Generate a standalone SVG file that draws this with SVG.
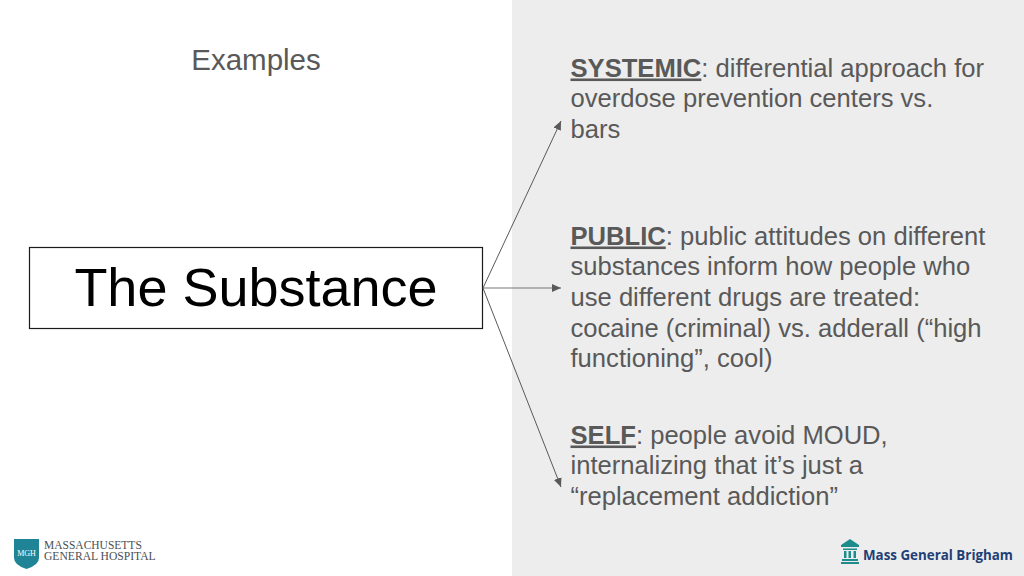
<svg xmlns="http://www.w3.org/2000/svg" width="1024" height="576" viewBox="0 0 1024 576">
<style>
.b{font-family:"Liberation Sans",Arial,sans-serif;font-size:25.6px;fill:#595959}
.h{font-weight:bold;text-decoration:underline}
.c{stroke:#595959;stroke-width:1;fill:none;marker-end:url(#a)}
</style>
<defs><marker id="a" markerUnits="userSpaceOnUse" markerWidth="10" markerHeight="10" refX="9" refY="4" orient="auto"><path d="M0 0L9 4L0 8Z" fill="#595959"/></marker></defs>
<rect width="1024" height="576" fill="#fff"/>
<rect x="512" width="512" height="576" fill="#ededed"/>
<text class="b" x="256" y="70" text-anchor="middle" style="font-size:29.500px">Examples</text>
<g id="node-substance"><rect x="29.500" y="247.500" width="453" height="81" fill="#fff" stroke="#1a1a1a" stroke-width="1.200"/>
<text x="256" y="306" text-anchor="middle" font-family="Liberation Sans,Arial,sans-serif" font-size="54" fill="#000">The Substance</text></g>
<g id="connectors">
<path class="c" d="M483 288L561 121"/>
<path class="c" d="M483 288H561" stroke-opacity=".8"/>
<path class="c" d="M483 288L561 487"/>
</g>
<g id="node-systemic"><text class="b" x="570.500" y="76.500"><tspan class="h">SYSTEMIC</tspan>: differential approach for</text>
<text class="b" x="570.500" y="107">overdose prevention centers vs.</text>
<text class="b" x="570.500" y="138">bars</text></g>
<g id="node-public"><text class="b" x="570.500" y="244.500"><tspan class="h">PUBLIC</tspan>: public attitudes on different</text>
<text class="b" x="570.500" y="275">substances inform how people who</text>
<text class="b" x="570.500" y="306">use different drugs are treated:</text>
<text class="b" x="570.500" y="337">cocaine (criminal) vs. adderall (“high</text>
<text class="b" x="570.500" y="367">functioning”, cool)</text></g>
<g id="node-self"><text class="b" x="570.500" y="443.500"><tspan class="h">SELF</tspan>: people avoid MOUD,</text>
<text class="b" x="570.500" y="474">internalizing that it’s just a</text>
<text class="b" x="570.500" y="504.500">“replacement addiction”</text></g>
<g id="logo-mgh">
<path d="M14 539H39V558Q39 565 26.500 569Q14 565 14 558Z" fill="#1e8496"/>
<text x="26.500" y="556" text-anchor="middle" font-family="Liberation Serif,serif" font-size="8" fill="#fff">MGH</text>
<text x="44" y="549" font-family="Liberation Serif,serif" font-size="11.500" fill="#4a4f54">MASSACHUSETTS</text>
<text x="44" y="560" font-family="Liberation Serif,serif" font-size="11.600" fill="#4a4f54">GENERAL HOSPITAL</text>
</g>
<g id="logo-mgb">
<path d="M841 545L850 539L859 545V547H841ZM843 548.500H857V550H843ZM844 551H846.500V558H844ZM848.500 551H851V558H848.500ZM853.500 551H856V558H853.500ZM842 559H858V561H842ZM841 562H859V564H841Z" fill="#1e8c8c"/>
<text x="863" y="559.500" font-family="Open Sans,sans-serif" font-size="13.800" font-weight="700" fill="#1f3f77" textLength="150" lengthAdjust="spacingAndGlyphs">Mass General Brigham</text>
</g>
</svg>
